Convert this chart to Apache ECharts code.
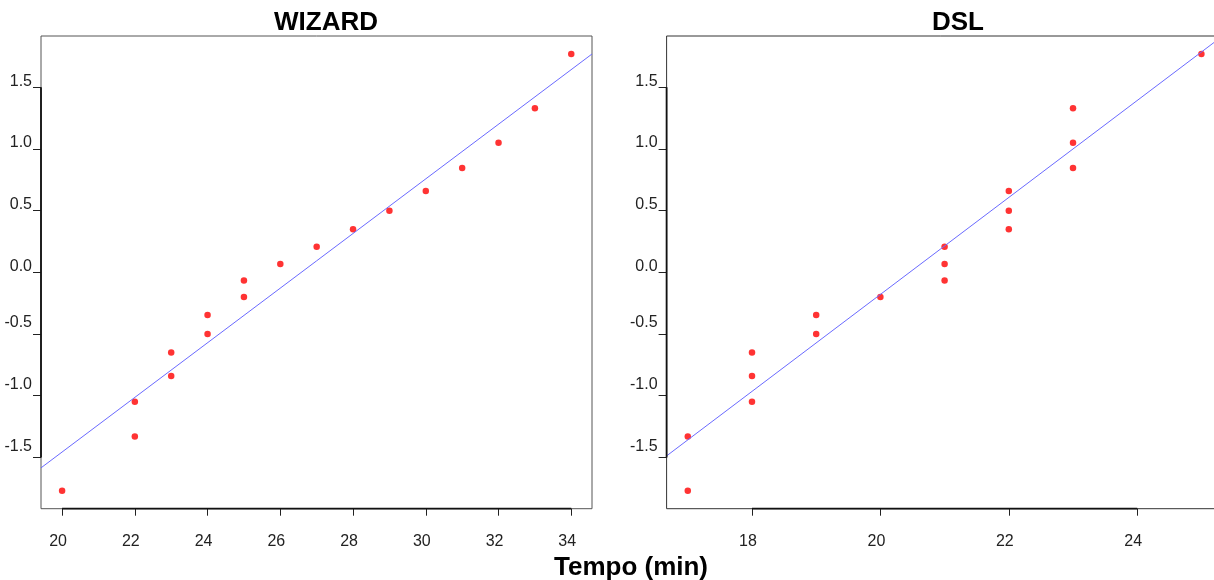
<!DOCTYPE html>
<html>
<head>
<meta charset="utf-8">
<script src="https://cdn.jsdelivr.net/npm/echarts@6/dist/echarts.min.js"></script>
<style>
  html, body { margin: 0; padding: 0; background: #fff; }
  #chart { width: 1214px; height: 580px; }
</style>
</head>
<body>
<div id="chart"></div>
<script>
// Normal Q-Q plots of task time (minutes) for the two approaches
const panelTitles = ['WIZARD', 'DSL'];
const xAxisTitle = 'Tempo (min)';

// Theoretical normal quantiles (shared by both samples, n = 18)
const quantiles = [-1.77, -1.33, -1.05, -0.84, -0.65, -0.50, -0.345, -0.20, -0.066,
                   0.068, 0.207, 0.35, 0.50, 0.66, 0.845, 1.05, 1.33, 1.77];

// Sorted sample times (min)
const wizardTimes = [20, 22, 22, 23, 23, 24, 24, 25, 25, 26, 27, 28, 29, 30, 31, 32, 33, 34];
const dslTimes    = [17, 17, 18, 18, 18, 19, 19, 20, 21, 21, 21, 22, 22, 22, 23, 23, 23, 25];

// Reference (Q-Q) lines, as [time, quantile] end points
const wizardLine = [[19.42, -1.585], [34.57, 1.77]];
const dslLine    = [[16.67, -1.488], [25.33, 1.916]];

// Tick values
const wizardTicks = [20, 22, 24, 26, 28, 30, 32, 34];
const dslTicks    = [18, 20, 22, 24];
const yTicks      = [-1.5, -1.0, -0.5, 0.0, 0.5, 1.0, 1.5];

// Axis extents
const wizardRange = [19.42, 34.57];
const dslRange    = [16.67, 25.33];
const yRange      = [-1.916, 1.916];

const FONT = '"Liberation Sans", Arial, sans-serif';
const LABEL_COLOR = '#222';
const LABEL_SIZE = 16;

function pairs(xs, ys) { return xs.map((x, i) => [x, ys[i]]); }

function xAxisFor(idx, range, ticks) {
  return {
    type: 'value', gridIndex: idx, min: range[0], max: range[1],
    axisLine: { show: false, onZero: false },
    splitLine: { show: false },
    axisTick: { show: true, inside: false, length: 7, customValues: ticks,
                lineStyle: { color: '#222', width: 1 } },
    axisLabel: { customValues: ticks, margin: 25, fontSize: LABEL_SIZE, fontFamily: FONT,
                 color: LABEL_COLOR, padding: [0, 8, 0, 0] }
  };
}

function yAxisFor(idx) {
  return {
    type: 'value', gridIndex: idx, min: yRange[0], max: yRange[1],
    axisLine: { show: false, onZero: false },
    splitLine: { show: false },
    axisTick: { show: true, inside: false, length: 8, customValues: yTicks,
                lineStyle: { color: '#222', width: 1 } },
    axisLabel: {
      customValues: yTicks, margin: 9, fontSize: LABEL_SIZE, fontFamily: FONT, color: LABEL_COLOR,
      formatter: v => (v < 0 ? '{n|' : '{p|') + Number(v).toFixed(1) + '}',
      rich: {
        p: { fontSize: LABEL_SIZE, fontFamily: FONT, color: LABEL_COLOR, padding: [0, 0, 12, 0] },
        n: { fontSize: LABEL_SIZE, fontFamily: FONT, color: LABEL_COLOR, padding: [0, 0, 22, 0] }
      }
    }
  };
}

// R-style axis lines spanning first to last tick
function axisSegments(idx, xRange, ticks) {
  const style = { color: '#111', width: 1.8 };
  return [
    { type: 'line', xAxisIndex: idx, yAxisIndex: idx, clip: false, symbol: 'none', silent: true,
      lineStyle: style, data: [[ticks[0], yRange[0]], [ticks[ticks.length - 1], yRange[0]]], z: 5 },
    { type: 'line', xAxisIndex: idx, yAxisIndex: idx, clip: false, symbol: 'none', silent: true,
      lineStyle: style, data: [[xRange[0], yTicks[0]], [xRange[0], yTicks[yTicks.length - 1]]], z: 5 }
  ];
}

function panelSeries(idx, times, line) {
  return [
    { type: 'scatter', xAxisIndex: idx, yAxisIndex: idx, symbol: 'circle', symbolSize: 6.5,
      itemStyle: { color: '#ff0000' }, data: pairs(times, quantiles), z: 3 },
    { type: 'line', xAxisIndex: idx, yAxisIndex: idx, symbol: 'none', clip: true,
      lineStyle: { color: '#6a6aff', width: 1 }, data: line, z: 4 }
  ];
}

const chart = echarts.init(document.getElementById('chart'), null, { renderer: 'canvas' });

const titleStyle = { fontSize: 26, fontWeight: 'bold', fontFamily: FONT, color: '#000' };

chart.setOption({
  animation: false,
  backgroundColor: '#ffffff',
  title: [
    { text: panelTitles[0], left: 321, top: 5, textAlign: 'center', textStyle: titleStyle },
    { text: panelTitles[1], left: 953, top: 5, textAlign: 'center', textStyle: titleStyle },
    { text: xAxisTitle, left: 626, top: 550, textAlign: 'center', textStyle: titleStyle }
  ],
  grid: [
    { left: 41, top: 36, width: 551, height: 472.7, show: true, borderColor: '#555',
      borderWidth: 1, backgroundColor: 'transparent', containLabel: false, outerBoundsMode: 'none' },
    { left: 666.6, top: 36, width: 556, height: 472.7, show: true, borderColor: '#333',
      borderWidth: 1, backgroundColor: 'transparent', containLabel: false, outerBoundsMode: 'none' }
  ],
  xAxis: [xAxisFor(0, wizardRange, wizardTicks), xAxisFor(1, dslRange, dslTicks)],
  yAxis: [yAxisFor(0), yAxisFor(1)],
  series: [
    ...panelSeries(0, wizardTimes, wizardLine),
    ...panelSeries(1, dslTimes, dslLine),
    ...axisSegments(0, wizardRange, wizardTicks),
    ...axisSegments(1, dslRange, dslTicks)
  ]
});
</script>
</body>
</html>
